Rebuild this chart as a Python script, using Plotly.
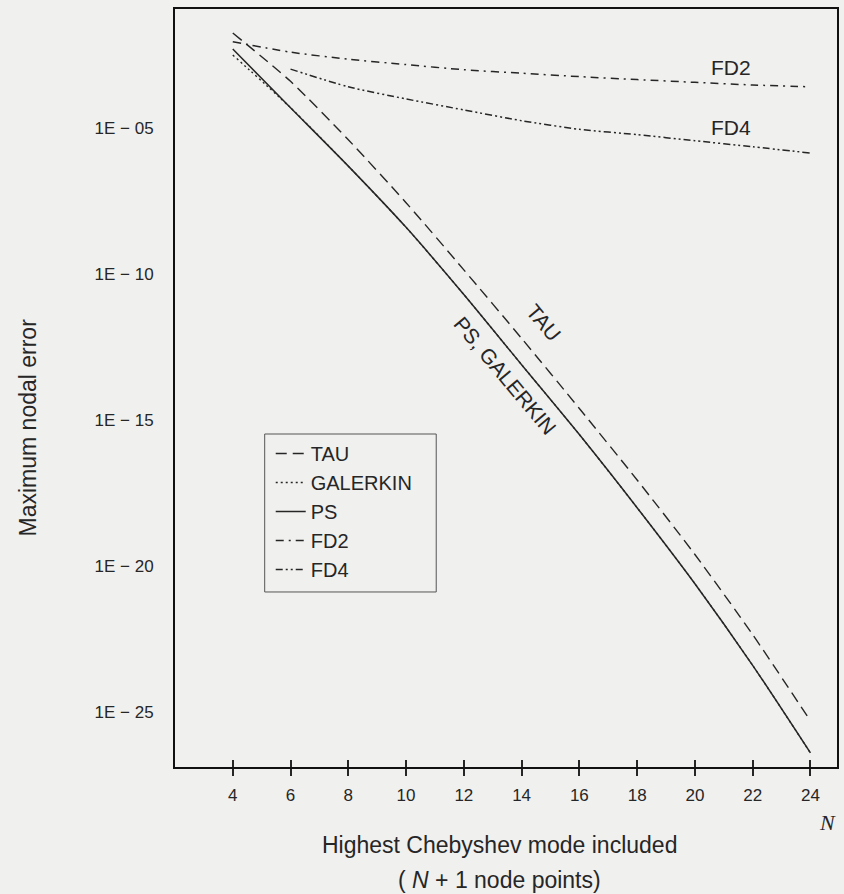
import plotly.graph_objects as go

# ---- data ----
N = [4, 6, 8, 10, 12, 14, 16, 18, 20, 22, 24]
N_fd4 = [6, 8, 10, 12, 14, 16, 18, 20, 22, 24]

tau = [1.8e-2, 4.0e-4, 4.0e-6, 2.8e-8, 1.4e-10, 6.3e-13, 2.5e-15, 8.9e-18, 2.5e-20, 4.5e-23, 5.0e-26]
galerkin = [3.2e-3, 5.0e-5, 5.0e-7, 4.0e-9, 2.0e-11, 7.9e-14, 3.2e-16, 1.0e-18, 2.5e-21, 4.0e-24, 4.0e-27]
ps = [5.1e-3, 5.0e-5, 5.0e-7, 4.0e-9, 2.0e-11, 7.9e-14, 3.2e-16, 1.0e-18, 2.5e-21, 4.0e-24, 4.0e-27]
fd2 = [9.1e-3, 4.0e-3, 2.3e-3, 1.5e-3, 1.0e-3, 7.6e-4, 5.8e-4, 4.6e-4, 3.7e-4, 3.0e-4, 2.6e-4]
fd4 = [1.05e-3, 2.6e-4, 1.0e-4, 4.2e-5, 1.8e-5, 9.1e-6, 6.0e-6, 3.7e-6, 2.3e-6, 1.4e-6]

x_ticks = [4, 6, 8, 10, 12, 14, 16, 18, 20, 22, 24]
y_tickvals = [1e-5, 1e-10, 1e-15, 1e-20, 1e-25]
y_ticktext = ["1E \u2212 05", "1E \u2212 10", "1E \u2212 15", "1E \u2212 20", "1E \u2212 25"]

BG = "#f0f0ef"
INK = "#262626"
FONT = "Liberation Sans, Arial, sans-serif"

fig = go.Figure()
fig.add_trace(go.Scatter(x=N, y=tau, name="TAU", mode="lines",
                         line=dict(color=INK, width=1.4, dash="11px,6px", shape="spline", smoothing=0.7)))
fig.add_trace(go.Scatter(x=N, y=galerkin, name="GALERKIN", mode="lines",
                         line=dict(color=INK, width=1.4, dash="2px,3px", shape="spline", smoothing=0.7)))
fig.add_trace(go.Scatter(x=N, y=ps, name="PS", mode="lines",
                         line=dict(color=INK, width=1.5, shape="spline", smoothing=0.7)))
fig.add_trace(go.Scatter(x=N, y=fd2, name="FD2", mode="lines",
                         line=dict(color=INK, width=1.5, dash="8px,5px,2px,5px", shape="spline", smoothing=0.7)))
fig.add_trace(go.Scatter(x=N_fd4, y=fd4, name="FD4", mode="lines",
                         line=dict(color=INK, width=1.5, dash="7px,3px,2px,3px,2px,3px",
                                   shape="spline", smoothing=0.7)))
# empty trace to carry the inward tick marks axis
fig.add_trace(go.Scatter(x=[], y=[], xaxis="x2", showlegend=False, hoverinfo="skip"))

xr = [2, 24.92]
fig.update_layout(
    width=844, height=894,
    margin=dict(l=175, r=5, t=9, b=127),
    paper_bgcolor=BG, plot_bgcolor=BG,
    font=dict(family=FONT, color=INK),
    xaxis=dict(range=xr, tickvals=x_ticks, ticks="outside", ticklen=7, tickwidth=1.5,
               tickcolor=INK, showgrid=False, zeroline=False, showline=True, linecolor="#111",
               linewidth=2, mirror=True, tickfont=dict(size=17, color=INK),
               ticklabelstandoff=5),
    xaxis2=dict(range=xr, overlaying="x", anchor="y", side="bottom", tickvals=x_ticks,
                ticks="inside", ticklen=7, tickwidth=1.5, tickcolor=INK,
                showticklabels=False, showgrid=False, zeroline=False, showline=False),
    yaxis=dict(type="log", range=[-26.88, -0.92], tickvals=y_tickvals, ticktext=y_ticktext,
               ticks="", showgrid=False, zeroline=False, showline=True, linecolor="#111",
               linewidth=2, mirror=True, tickfont=dict(size=17, color=INK),
               ticklabelstandoff=16),
    legend=dict(x=0.1446, y=0.4393, xanchor="left", yanchor="top",
                bgcolor="rgba(0,0,0,0)", borderwidth=0,
                font=dict(size=20, color=INK), itemwidth=30, tracegroupgap=0),
    showlegend=True,
)

# legend frame (decoration around the legend)
fig.add_shape(type="rect", xref="paper", yref="paper", x0=0.1355, x1=0.3946, y0=0.2309, y1=0.4393,
              line=dict(color="#555", width=1), fillcolor="rgba(0,0,0,0)")

ann_font = dict(family=FONT, size=21, color=INK)
fig.add_annotation(x=21.26, y=-2.94, xref="x", yref="y", xanchor="center", yanchor="middle",
                   text="FD2", showarrow=False, font=ann_font)
fig.add_annotation(x=21.26, y=-4.98, xref="x", yref="y", xanchor="center", yanchor="middle",
                   text="FD4", showarrow=False, font=ann_font)
fig.add_annotation(x=14.77, y=-11.64, xref="x", yref="y", xanchor="center", yanchor="middle",
                   text="TAU", showarrow=False, textangle=50, font=ann_font)
fig.add_annotation(x=13.42, y=-13.48, xref="x", yref="y", xanchor="center", yanchor="middle",
                   text="PS, GALERKIN", showarrow=False, textangle=50, font=ann_font)

# axis titles
fig.add_annotation(x=0.49, y=-0.1029, xref="paper", yref="paper", xanchor="center", yanchor="middle",
                   text="Highest Chebyshev mode included", showarrow=False,
                   font=dict(family=FONT, size=23, color=INK))
fig.add_annotation(x=0.49, y=-0.149, xref="paper", yref="paper", xanchor="center", yanchor="middle",
                   text="( <i>N</i> + 1 node points)", showarrow=False,
                   font=dict(family=FONT, size=23, color=INK))
fig.add_annotation(x=-0.2214, y=0.4485, xref="paper", yref="paper", xanchor="center",
                   yanchor="middle", text="Maximum nodal error", textangle=-90, showarrow=False,
                   font=dict(family=FONT, size=23, color=INK))
fig.add_annotation(x=0.985, y=-0.073, xref="paper", yref="paper", xanchor="center", yanchor="middle",
                   text="<i>N</i>", showarrow=False,
                   font=dict(family="Liberation Serif, serif", size=22, color=INK))

fig.write_html("out.html", config={"displayModeBar": False},
               post_script="document.body.style.margin='0px';")
